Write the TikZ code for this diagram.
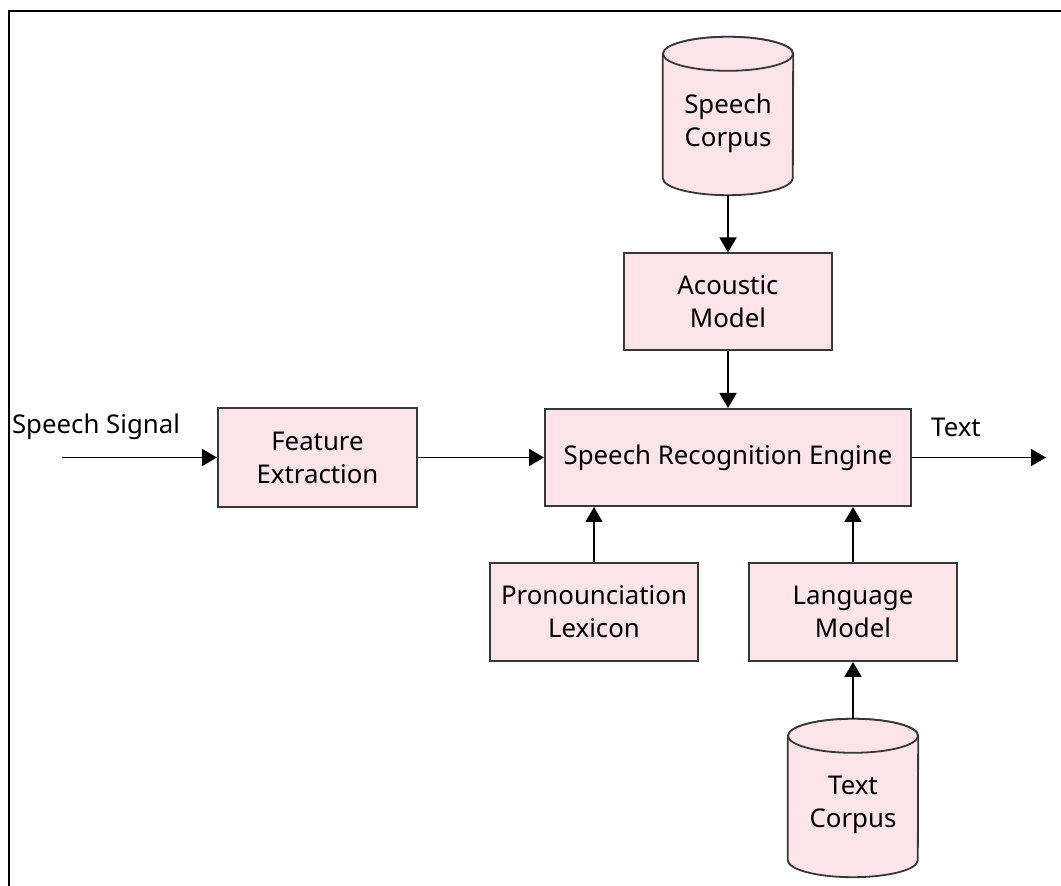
\documentclass[tikz,border=0pt]{standalone}
\usepackage{fontspec}
\setmainfont{Noto Sans}
\usetikzlibrary{arrows.meta}
\definecolor{boxfill}{RGB}{252,228,232}
\definecolor{boxline}{RGB}{55,55,55}
\tikzset{
  blk/.style={draw=boxline, fill=boxfill, line width=2pt, align=center, inner sep=0pt,
              font=\fontsize{25.8}{33}\selectfont},
  cylbox/.style={minimum width=130pt, minimum height=158pt, inner sep=0pt},
  cyl/.style={draw=boxline, fill=boxfill, line width=1.8pt},
  lbl/.style={align=center, inner sep=0pt, font=\fontsize{25.8}{33}\selectfont},
  arr/.style={line width=1.8pt, -{Triangle[length=15pt,width=17pt]}},
}
\begin{document}
\begin{tikzpicture}[x=1pt,y=1pt]
\useasboundingbox (0,0) rectangle (1061,886);
% frame
\draw[line width=2pt] (9,0) -- (9,875) -- (1061,875);
% boxes
\node[blk, minimum width=208pt, minimum height=97pt] (am) at (728,584) {Acoustic\\Model};
\node[blk, minimum width=366pt, minimum height=97pt] (sre) at (728,428.5) {Speech Recognition Engine};
\node[blk, minimum width=199pt, minimum height=99pt] (fe) at (317.5,428.5) {Feature\\Extraction};
\node[blk, minimum width=208pt, minimum height=98pt] (pl) at (594,274) {Pronounciation\\Lexicon};
\node[blk, minimum width=208pt, minimum height=98pt] (lm) at (853,274) {Language\\Model};
% speech corpus cylinder
\node[cylbox] (sc) at (728,770) {};
\path[cyl] ([yshift=-17pt]sc.north west) -- ([yshift=17pt]sc.south west)
   arc[start angle=180, end angle=360, x radius=65pt, y radius=17pt]
   -- ([yshift=-17pt]sc.north east)
   arc[start angle=0, end angle=180, x radius=65pt, y radius=17pt] -- cycle;
\draw[cyl] ([yshift=-17pt]sc.north) ellipse[x radius=65pt, y radius=17pt];
\node[lbl] (sclabel) at (728,763) {Speech\\Corpus};
% text corpus cylinder
\node[cylbox] (tc) at (853,88) {};
\path[cyl] ([yshift=-17pt]tc.north west) -- ([yshift=17pt]tc.south west)
   arc[start angle=180, end angle=360, x radius=65pt, y radius=17pt]
   -- ([yshift=-17pt]tc.north east)
   arc[start angle=0, end angle=180, x radius=65pt, y radius=17pt] -- cycle;
\draw[cyl] ([yshift=-17pt]tc.north) ellipse[x radius=65pt, y radius=17pt];
\node[lbl] (tclabel) at (853,81) {Text\\Corpus};
% labels
\node[lbl] (sigl) at (96,459) {Speech Signal};
\node[lbl] (txtl) at (956,459) {Text};
\coordinate (sigstart) at (62,428.5);
\coordinate (txtend) at (1046,428.5);
% connectors
\draw[arr] (sigstart) -- (fe.west);
\draw[arr] (fe.east) -- (sre.west);
\draw[arr] (sre.east) -- (txtend);
\draw[arr] (sc.south) -- (am.north);
\draw[arr] (am.south) -- (sre.north);
\draw[arr] (pl.north) -- (pl.north |- sre.south);
\draw[arr] (lm.north) -- (lm.north |- sre.south);
\draw[arr] (tc.north) -- (lm.south);
\end{tikzpicture}
\end{document}
